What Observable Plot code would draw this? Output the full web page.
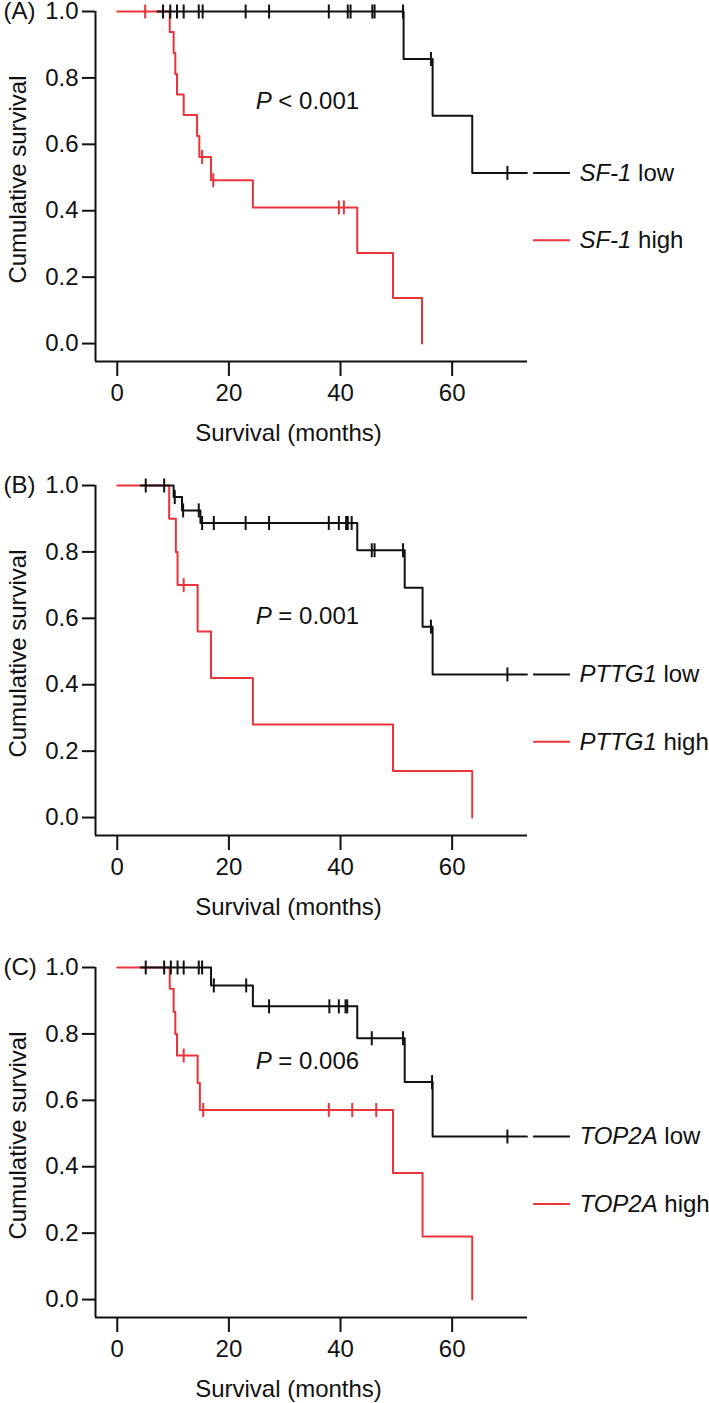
<!DOCTYPE html>
<html><head><meta charset="utf-8">
<script src="https://cdn.jsdelivr.net/npm/d3@7"></script>
<script src="https://cdn.jsdelivr.net/npm/@observablehq/plot@0.6"></script>
<style>
body{margin:0;background:#fff;}
#wrap{width:709px;}
#wrap svg{display:block;}
</style></head><body><div id="wrap"></div>
<script>
// ---------- tick labels ----------
const xTicks = [0, 20, 40, 60];
const yTicks = [0, 0.2, 0.4, 0.6, 0.8, 1.0];
const panelLetters = ["(A)", "(B)", "(C)"];
const genes = ["SF-1", "PTTG1", "TOP2A"];
const pLabels = ["P < 0.001", "P = 0.001", "P = 0.006"];
const pPosX = [24.8, 24.8, 24.8];
const pPosY = [0.73, 0.607, 0.718];

// ---------- Panel A: SF-1 ----------
const aLowT = [7.2, 51.3, 56.5, 63.6, 73.4];
const aLowS = [1, 0.857, 0.686, 0.514, 0.514];
const aLowCens = [8.2, 9.5, 10.7, 11.9, 14.6, 15.3, 23.0, 27.2, 37.9, 41.3, 41.8, 45.7, 46.1, 51.2, 56.2, 69.9];
const aHighT = [0, 9.4, 10.1, 10.4, 10.7, 11.9, 14.3, 14.7, 16.8, 24.3, 43.0, 49.4, 54.6];
const aHighS = [1, 0.938, 0.875, 0.812, 0.75, 0.688, 0.625, 0.562, 0.492, 0.41, 0.273, 0.137, 0];
const aHighCens = [5.0, 15.2, 17.2, 39.7, 40.6];

// ---------- Panel B: PTTG1 ----------
const bLowT = [4.2, 10.1, 11.6, 14.9, 43.0, 51.5, 54.7, 56.5, 73.4];
const bLowS = [1, 0.965, 0.925, 0.887, 0.805, 0.692, 0.575, 0.431, 0.431];
const bLowCens = [5.1, 8.4, 10.3, 11.8, 14.6, 15.2, 17.3, 23.0, 27.2, 37.9, 39.7, 41.0, 41.3, 42.0, 45.6, 46.1, 51.2, 56.2, 69.9];
const bHighT = [0, 9.3, 10.5, 10.8, 14.4, 16.8, 24.3, 49.4, 63.6];
const bHighS = [1, 0.9, 0.8, 0.7, 0.56, 0.42, 0.28, 0.14, 0];
const bHighCens = [11.9];

// ---------- Panel C: TOP2A ----------
const cLowT = [4.2, 16.8, 24.3, 43.0, 51.5, 56.5, 73.4];
const cLowS = [1, 0.946, 0.883, 0.787, 0.655, 0.491, 0.491];
const cLowCens = [5.1, 8.4, 9.6, 10.8, 11.9, 14.6, 15.2, 17.3, 23.1, 27.2, 38.0, 39.7, 40.9, 41.2, 45.6, 51.2, 56.4, 69.9];
const cHighT = [0, 9.4, 10.1, 10.4, 10.7, 14.4, 14.8, 49.4, 54.7, 63.6];
const cHighS = [1, 0.936, 0.866, 0.80, 0.735, 0.652, 0.571, 0.381, 0.19, 0];
const cHighCens = [11.9, 15.4, 37.9, 42.1, 46.4];

// ---------- layout ----------
const panelHeights = [474, 482, 447];
const X_DOMAIN = [-3.9, 73.5];
const Y_DOMAIN = [-0.054, 1];
const LOW_COLOR = "#111";
const HIGH_COLOR = "#e8343a";
const FONT = "'Liberation Sans', Arial, Helvetica, sans-serif";
const FS = 24;

const vbar = {draw(ctx, size) { const h = Math.sqrt(size / Math.PI); ctx.moveTo(0, -h); ctx.lineTo(0, h); }};

function survAt(T, S, t) { let v = S[0]; for (let i = 0; i < T.length; i++) if (T[i] <= t) v = S[i]; return v; }
function pts(T, S) { return T.map((t, i) => ({t, s: S[i]})); }
function cens(T, S, C) { return C.map(t => ({t, s: survAt(T, S, t)})); }

function italicize(svg, test, splitAt) {
  d3.select(svg).selectAll("text").each(function() {
    if (this.querySelector("tspan")) return;
    const s = this.textContent;
    if (!test(s)) return;
    const k = splitAt(s);
    const el = d3.select(this);
    el.text(null).attr("xml:space", "preserve").style("white-space", "pre");
    el.append("tspan").attr("font-style", "italic").text(s.slice(0, k));
    el.append("tspan").text(s.slice(k));
  });
}

function panel(i, lowT, lowS, lowC, highT, highS, highC) {
  const H = panelHeights[i];
  const lowEnd = lowS[lowS.length - 1];
  const legend = [
    {y: lowEnd, label: genes[i] + " low", c: LOW_COLOR},
    {y: lowEnd - 0.203, label: genes[i] + " high", c: HIGH_COLOR}
  ];
  const svg = Plot.plot({
    width: 709, height: H,
    marginTop: 11, marginLeft: 95, marginRight: 182, marginBottom: H - 361,
    x: {domain: X_DOMAIN},
    y: {domain: Y_DOMAIN},
    style: {fontFamily: FONT, fontSize: FS + "px", color: "#111", background: "#fff", overflow: "visible"},
    marks: [
      Plot.axisY({ticks: yTicks, tickFormat: d => d.toFixed(1), tickSize: 13, tickPadding: 4, strokeWidth: 2, label: null, fontSize: FS}),
      Plot.axisX({ticks: xTicks, tickFormat: d => String(d), tickSize: 15, tickPadding: 7, strokeWidth: 2, label: null, fontSize: FS}),
      Plot.ruleX([X_DOMAIN[0]], {y1: Y_DOMAIN[0], y2: 1, strokeWidth: 2, stroke: "#111"}),
      Plot.ruleY([Y_DOMAIN[0]], {x1: X_DOMAIN[0], x2: X_DOMAIN[1], strokeWidth: 2, stroke: "#111"}),
      Plot.line(pts(highT, highS), {x: "t", y: "s", curve: "step-after", stroke: HIGH_COLOR, strokeWidth: 2}),
      Plot.dot(cens(highT, highS, highC), {x: "t", y: "s", symbol: vbar, r: 7, stroke: HIGH_COLOR, strokeWidth: 2, fill: "none"}),
      Plot.line(pts(lowT, lowS), {x: "t", y: "s", curve: "step-after", stroke: LOW_COLOR, strokeWidth: 2}),
      Plot.dot(cens(lowT, lowS, lowC), {x: "t", y: "s", symbol: vbar, r: 7, stroke: LOW_COLOR, strokeWidth: 2, fill: "none"}),
      Plot.ruleY(legend, {y: "y", x1: 74.6, x2: 81.2, stroke: "c", strokeWidth: 2}),
      Plot.text(legend, {x: 82.8, y: "y", text: "label", textAnchor: "start", fill: "#111", fontSize: FS}),
      Plot.text([pLabels[i]], {x: pPosX[i], y: pPosY[i], textAnchor: "start", fill: "#111", fontSize: FS}),
      Plot.text([panelLetters[i]], {frameAnchor: "left", y: 1, dx: -92, textAnchor: "start", fill: "#111", fontSize: FS}),
      Plot.text(["Cumulative survival"], {x: -17.7, y: 0.494, rotate: -90, fill: "#111", fontSize: FS}),
      Plot.text(["Survival (months)"], {frameAnchor: "bottom", dx: -23, dy: 79, fill: "#111", fontSize: FS})
    ]
  });
  italicize(svg, s => s.startsWith(genes[i] + " "), s => s.indexOf(" "));
  italicize(svg, s => s.startsWith("P "), () => 1);
  return svg;
}

const wrap = document.getElementById("wrap");
wrap.appendChild(panel(0, aLowT, aLowS, aLowCens, aHighT, aHighS, aHighCens));
wrap.appendChild(panel(1, bLowT, bLowS, bLowCens, bHighT, bHighS, bHighCens));
wrap.appendChild(panel(2, cLowT, cLowS, cLowCens, cHighT, cHighS, cHighCens));
</script>
</body></html>
